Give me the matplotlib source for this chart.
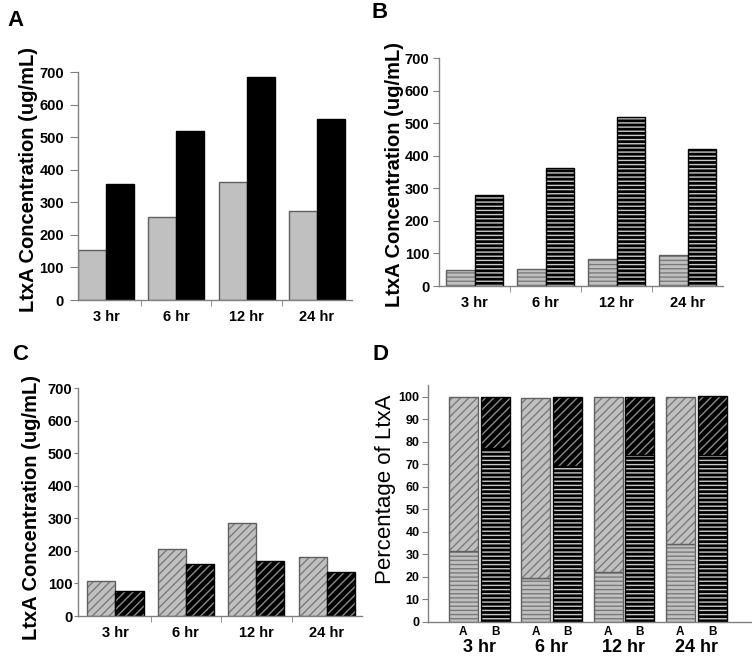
import matplotlib.pyplot as plt
import numpy as np

plt.rcParams['font.family'] = ['Liberation Sans', 'DejaVu Sans']
plt.rcParams['hatch.linewidth'] = 1.0

TIMES = ['3 hr', '6 hr', '12 hr', '24 hr']

A_GRAY = [153, 256, 363, 273]
A_BLACK = [355, 519, 684, 555]
B_GRAY = [49, 52, 82, 95]
B_BLACK = [280, 362, 518, 421]
C_GRAY = [107, 206, 286, 181]
C_BLACK = [78, 160, 168, 136]

D_LABELS = ['A', 'B']
D_A_LOW = [31.5, 19.7, 22.1, 34.6]
D_A_TOTAL = [100, 99.6, 100, 100]
D_B_LOW = [77.2, 69.3, 74.0, 74.3]
D_B_TOTAL = [100, 100, 100, 100.3]

GRAY = '#c0c0c0'
SPINE = '#808080'


def hbar(ax, x, h, width, face, hatch, hcolor, edge, bottom=0):
    ax.bar(x, h, width, bottom=bottom, color=face, edgecolor=hcolor,
           hatch=hatch, linewidth=0, align='edge')
    ax.bar(x, h, width, bottom=bottom, fill=False, edgecolor=edge,
           linewidth=1.0, align='edge')


def style(ax, pad, length=4):
    for s in ['top', 'right']:
        ax.spines[s].set_visible(False)
    for s in ['left', 'bottom']:
        ax.spines[s].set_color(SPINE)
        ax.spines[s].set_linewidth(1.0)
    ax.tick_params(axis='y', direction='out', length=length, color=SPINE,
                   pad=pad, labelsize=10.5)
    for t in ax.get_yticklabels():
        t.set_fontweight('bold')


def conc_panel(ax, gray, black, xlim, gh, gc, bh, bc, pad, length):
    x = np.arange(len(TIMES))
    w = 0.4
    hbar(ax, x - w, gray, w, GRAY, gh, gc, '#606060')
    hbar(ax, x, black, w, 'black', bh, bc, 'black')
    ax.set_xlim(*xlim)
    ax.set_ylim(0, 700)
    ax.set_yticks(range(0, 701, 100))
    ax.set_xticks(x)
    ax.set_xticklabels(TIMES, fontweight='bold', fontsize=10.5)
    ax.set_xticks(x[:-1] + 0.5, minor=True)
    ax.tick_params(axis='x', which='major', length=0, pad=7)
    ax.tick_params(axis='x', which='minor', length=4, color=SPINE)
    style(ax, pad, length)


fig = plt.figure(figsize=(7.52, 6.57), dpi=100)
W, H = 752.0, 657.0


def rect(l, t, r, b):
    return [l / W, 1 - b / H, (r - l) / W, (b - t) / H]


axA = fig.add_axes(rect(78, 72, 352, 300))
conc_panel(axA, A_GRAY, A_BLACK, (-0.4, 3.5), None, '#606060', None, 'black', 4, 6)

axB = fig.add_axes(rect(439, 58, 723, 286))
conc_panel(axB, B_GRAY, B_BLACK, (-0.5, 3.5), '----', '#7a7a7a', '----', '#c8c8c8', 3, 4)

axC = fig.add_axes(rect(78, 388, 362, 616))
conc_panel(axC, C_GRAY, C_BLACK, (-0.53, 3.5), '////', '#7a7a7a', '////', '#8a8a8a', 1, 3)

# panel D: stacked percentages
axD = fig.add_axes(rect(428, 385, 752, 622))
xd = np.arange(len(TIMES))
w = 0.4
a_top = np.array(D_A_TOTAL) - np.array(D_A_LOW)
b_top = np.array(D_B_TOTAL) - np.array(D_B_LOW)
hbar(axD, xd - 0.42, D_A_LOW, w, GRAY, '----', '#7a7a7a', '#606060')
hbar(axD, xd - 0.42, a_top, w, GRAY, '////', '#7a7a7a', '#606060', bottom=D_A_LOW)
hbar(axD, xd + 0.02, D_B_LOW, w, 'black', '----', '#c8c8c8', 'black')
hbar(axD, xd + 0.02, b_top, w, 'black', '////', '#8a8a8a', 'black', bottom=D_B_LOW)
axD.set_xlim(-0.71, 3.77)
axD.set_ylim(0, 105.3)
axD.set_yticks(range(0, 101, 10))
pos = np.concatenate([xd - 0.22, xd + 0.22])
axD.set_xticks(pos)
axD.set_xticklabels(['A'] * 4 + ['B'] * 4, fontsize=8.5, fontweight='bold')
axD.tick_params(axis='x', length=0, pad=3)
style(axD, 2)
for t in axD.get_yticklabels():
    t.set_fontsize(9)
for xi, lab in zip(xd, TIMES):
    axD.annotate(lab, xy=(xi, 0), xycoords=('data', 'axes fraction'),
                 xytext=(0, -12), textcoords='offset points',
                 ha='center', va='top', fontsize=13, fontweight='bold')

ylab = 'LtxA Concentration (ug/mL)'
fig.text(29 / W, 1 - 180 / H, ylab, rotation=90, ha='center', va='center',
         fontsize=14.5, fontweight='bold')
fig.text(394 / W, 1 - 175 / H, ylab, rotation=90, ha='center', va='center',
         fontsize=14.5, fontweight='bold')
fig.text(32 / W, 1 - 508 / H, ylab, rotation=90, ha='center', va='center',
         fontsize=14.5, fontweight='bold')
fig.text(386 / W, 1 - 489 / H, 'Percentage of LtxA', rotation=90,
         ha='center', va='center', fontsize=16)

for lab, px, py in [('A', 15, 20), ('B', 380, 13), ('C', 20, 354), ('D', 381, 354)]:
    fig.text(px / W, 1 - py / H, lab, ha='center', va='center',
             fontsize=16, fontweight='bold')

fig.savefig('out.png', dpi=100)
